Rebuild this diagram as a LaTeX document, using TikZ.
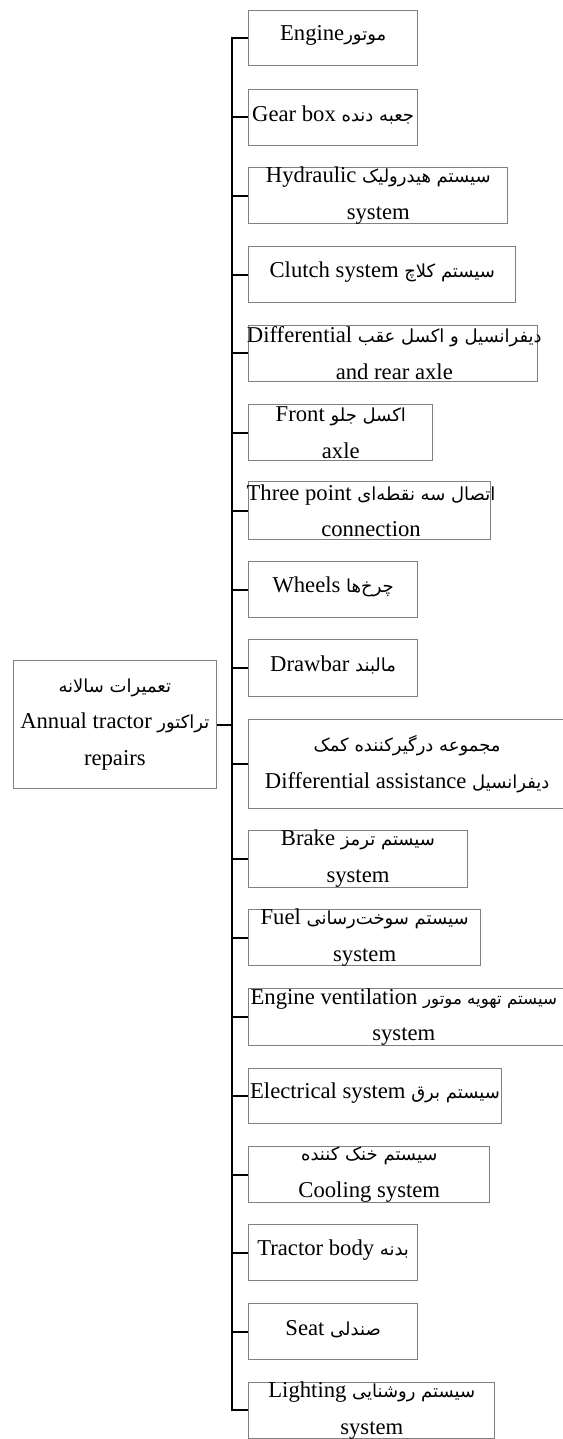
\documentclass[tikz,border=0pt]{standalone}
\usepackage{fontspec}
\usepackage{tikz}
\setmainfont{Liberation Serif}
\newfontfamily\farsi[Script=Arabic]{DejaVu Sans}
\TeXXeTstate=1
\newcommand{\fa}{\farsi\fontsize{13.5}{27.5}\selectfont}

\begin{document}
\begin{tikzpicture}[x=0.75pt,y=0.75pt,yscale=-1,xscale=1,
	part/.style 2 args={draw={rgb, 255:red, 128; green, 128; blue, 128 }, line width=0.75, inner sep=0pt, anchor=north west, minimum width=#1*0.75pt, minimum height=#2*0.75pt},
	parttext/.style={align=center, inner sep=0pt, font=\fontsize{17}{27.5}\selectfont},
	branch/.style={line width=1.5}]
	\useasboundingbox (0,0) rectangle (562,1439);
	
	%Shape: Rectangle [root]
	\node [part={203.3}{128}, label={[parttext]center:{{\fa\beginR تعمیرات سالانه\endR}\\Annual tractor {\fa\beginR تراکتور\endR}\\repairs}}] (root) at (12.7,660) {};
	
	%Shape: Rectangle [parts]
	\node [part={168.7}{55.3}, label={[parttext,yshift=2pt]center:{Engine{\fa\beginR موتور\endR}}}] (engine) at (248.3,10) {};
	\node [part={168.7}{55.3}, label={[parttext,yshift=2pt]center:{Gear box {\fa\beginR جعبه دنده\endR}}}] (gearbox) at (248.3,89.3) {};
	\node [part={259}{56.6}, label={[parttext]center:{Hydraulic {\fa\beginR سیستم هیدرولیک\endR}\\system}}] (hydraulic) at (248.3,166.7) {};
	\node [part={267}{56.6}, label={[parttext,yshift=2pt]center:{Clutch system {\fa\beginR سیستم کلاچ\endR}}}] (clutch) at (248.3,245.7) {};
	\node [part={288.4}{55.7}, label={[parttext,xshift=1pt]center:{Differential {\fa\beginR دیفرانسیل و اکسل عقب\endR}\\and rear axle}}] (rearaxle) at (248.3,325) {};
	\node [part={184}{56}, label={[parttext]center:{Front {\fa\beginR اکسل جلو\endR}\\axle}}] (frontaxle) at (248.3,404) {};
	\node [part={241.7}{58.3}, label={[parttext,xshift=1pt]center:{Three point {\fa\beginR اتصال سه نقطه‌ای\endR}\\connection}}] (threepoint) at (248.3,481) {};
	\node [part={168.7}{56.6}, label={[parttext,yshift=2pt]center:{Wheels {\fa\beginR چرخ‌ها\endR}}}] (wheels) at (248.3,560.7) {};
	\node [part={168.7}{56.4}, label={[parttext,yshift=2pt]center:{Drawbar {\fa\beginR مالبند\endR}}}] (drawbar) at (248.3,639.3) {};
	\node [part={316.7}{88.7}, label={[parttext]center:{{\fa\beginR مجموعه درگیرکننده کمک\endR}\\Differential assistance {\fa\beginR دیفرانسیل\endR}}}] (assist) at (248.3,719) {};
	\node [part={218.4}{56.7}, label={[parttext]center:{Brake {\fa\beginR سیستم ترمز\endR}\\system}}] (brake) at (248.3,830) {};
	\node [part={231.7}{55.7}, label={[parttext]center:{Fuel {\fa\beginR سیستم سوخت‌رسانی\endR}\\system}}] (fuel) at (248.3,909.3) {};
	\node [part={316.7}{56.7}, label={[parttext,xshift=-2.5pt]center:{Engine ventilation {\fa\fontsize{12.5}{27.5}\selectfont\beginR سیستم تهویه موتور\endR}\\system}}] (ventilation) at (248.3,988.3) {};
	\node [part={252.4}{55.6}, label={[parttext,yshift=2pt]center:{Electrical system {\fa\beginR سیستم برق\endR}}}] (electrical) at (248.3,1067.7) {};
	\node [part={241}{56.3}, label={[parttext]center:{{\fa\beginR سیستم خنک کننده\endR}\\Cooling system}}] (cooling) at (248.3,1146) {};
	\node [part={168.7}{55.7}, label={[parttext,yshift=2pt]center:{Tractor body {\fa\beginR بدنه\endR}}}] (body) at (248.3,1224.3) {};
	\node [part={168.7}{55.7}, label={[parttext,yshift=2pt]center:{Seat {\fa\beginR صندلی\endR}}}] (seat) at (248.3,1303.3) {};
	\node [part={246}{56.3}, label={[parttext]center:{Lighting {\fa\beginR سیستم روشنایی\endR}\\system}}] (lighting) at (248.3,1381.7) {};
	
	%Straight Lines [tree]
	\coordinate (trunk) at (231.7,0);
	\draw [branch] (engine.west) -- (engine.west -| trunk) -- (lighting.west -| trunk) -- (lighting.west);
	\foreach \p in {gearbox,hydraulic,clutch,rearaxle,frontaxle,threepoint,wheels,drawbar,assist,brake,fuel,ventilation,electrical,cooling,body,seat}
		\draw [branch] (\p.west -| trunk) -- (\p.west);
	\draw [branch] (root.east) -- (root.east -| trunk);
	
\end{tikzpicture}
\end{document}
